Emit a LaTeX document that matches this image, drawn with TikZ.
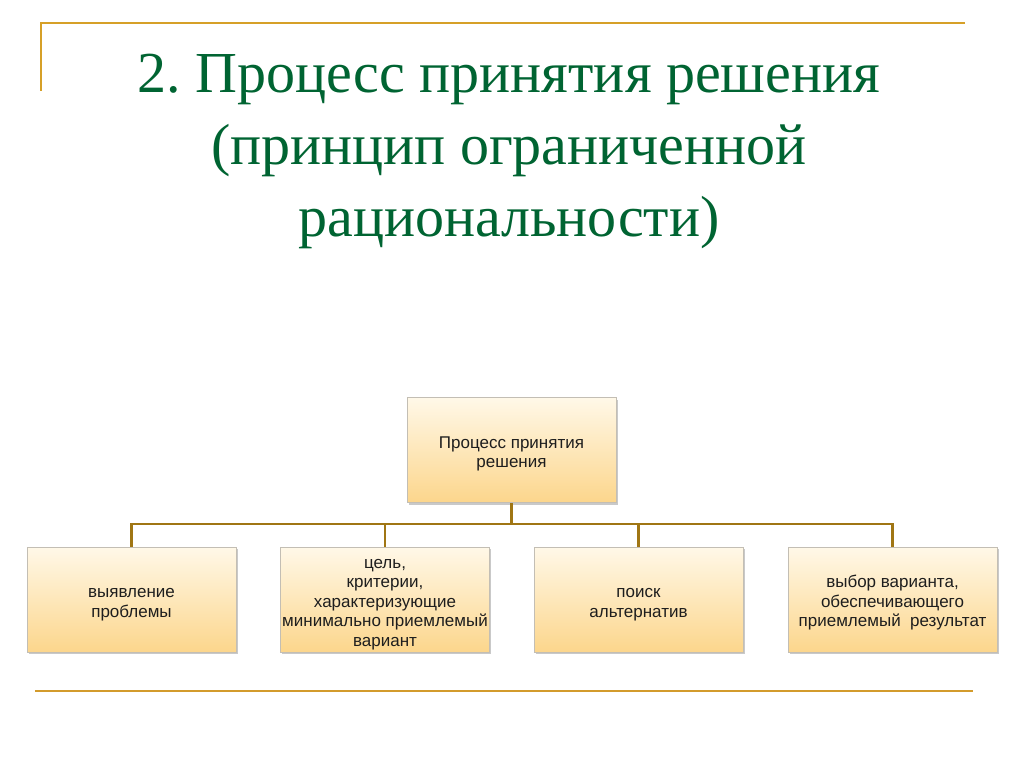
\documentclass[tikz,border=0pt]{standalone}
\usepackage{fontspec}
\setmainfont{Liberation Serif}
\newfontfamily\boxfont{Liberation Sans}
\usetikzlibrary{shadows}
\frenchspacing
\newcommand\btext[1]{\raisebox{-4pt}[\height][\depth]{\begin{tabular}{@{}c@{}}#1\end{tabular}}}
\definecolor{gold}{RGB}{214,160,40}
\definecolor{conn}{RGB}{160,118,20}
\definecolor{titlegreen}{RGB}{0,100,50}
\definecolor{boxtop}{RGB}{255,248,232}
\definecolor{boxbot}{RGB}{252,214,140}
\definecolor{boxedge}{RGB}{195,190,180}
\definecolor{boxtext}{RGB}{30,30,30}
\tikzset{
  box/.style={draw=boxedge, line width=0.8pt, top color=boxtop, bottom color=boxbot,
    minimum width=209pt, minimum height=105pt, inner sep=0pt, text=boxtext,
    font=\boxfont\fontsize{17}{19.5}\selectfont,
    drop shadow={shadow xshift=1.5pt, shadow yshift=-2pt, opacity=0.35, fill=black!60}},
  link/.style={draw=conn, line width=2.8pt},
  rule/.style={draw=gold, line width=2pt},
  title/.style={text=titlegreen, font=\fontsize{58}{72}\selectfont, align=center}
}
\begin{document}
\begin{tikzpicture}[x=1pt,y=-1pt]
\useasboundingbox[fill=white] (0,0) rectangle (1024,767);
\draw[rule] (41,91) -- (41,23) -- (965,23);
\draw[draw=gold!85!brown, line width=2.5pt] (35,691) -- (973,691);
\node[title] (t) at (509,151) {2. Процесс принятия решения\\(принцип ограниченной\\рациональности)};
\node[box] (top) at (511.5,450) {\btext{Процесс принятия\\решения}};
\node[box] (b1) at (131.5,599.5) {\btext{выявление\\проблемы}};
\node[box] (b2) at (385,599.5) {\btext{цель,\\критерии,\\характеризующие\\минимально приемлемый\\вариант}};
\node[box] (b3) at (638.5,599.5) {\btext{поиск\\альтернатив}};
\node[box] (b4) at (892.5,599.5) {\btext{выбор варианта,\\обеспечивающего\\приемлемый\ \ результат}};
\coordinate (h) at (511.5,524);
\draw[link] (top.south) -- (h);
\draw[link] (b1.north) -- (b1.north |- h) -- (b4.north |- h) -- (b4.north);
\draw[link] (b2.north) -- (b2.north |- h);
\draw[link] (b3.north) -- (b3.north |- h);
\end{tikzpicture}
\end{document}
